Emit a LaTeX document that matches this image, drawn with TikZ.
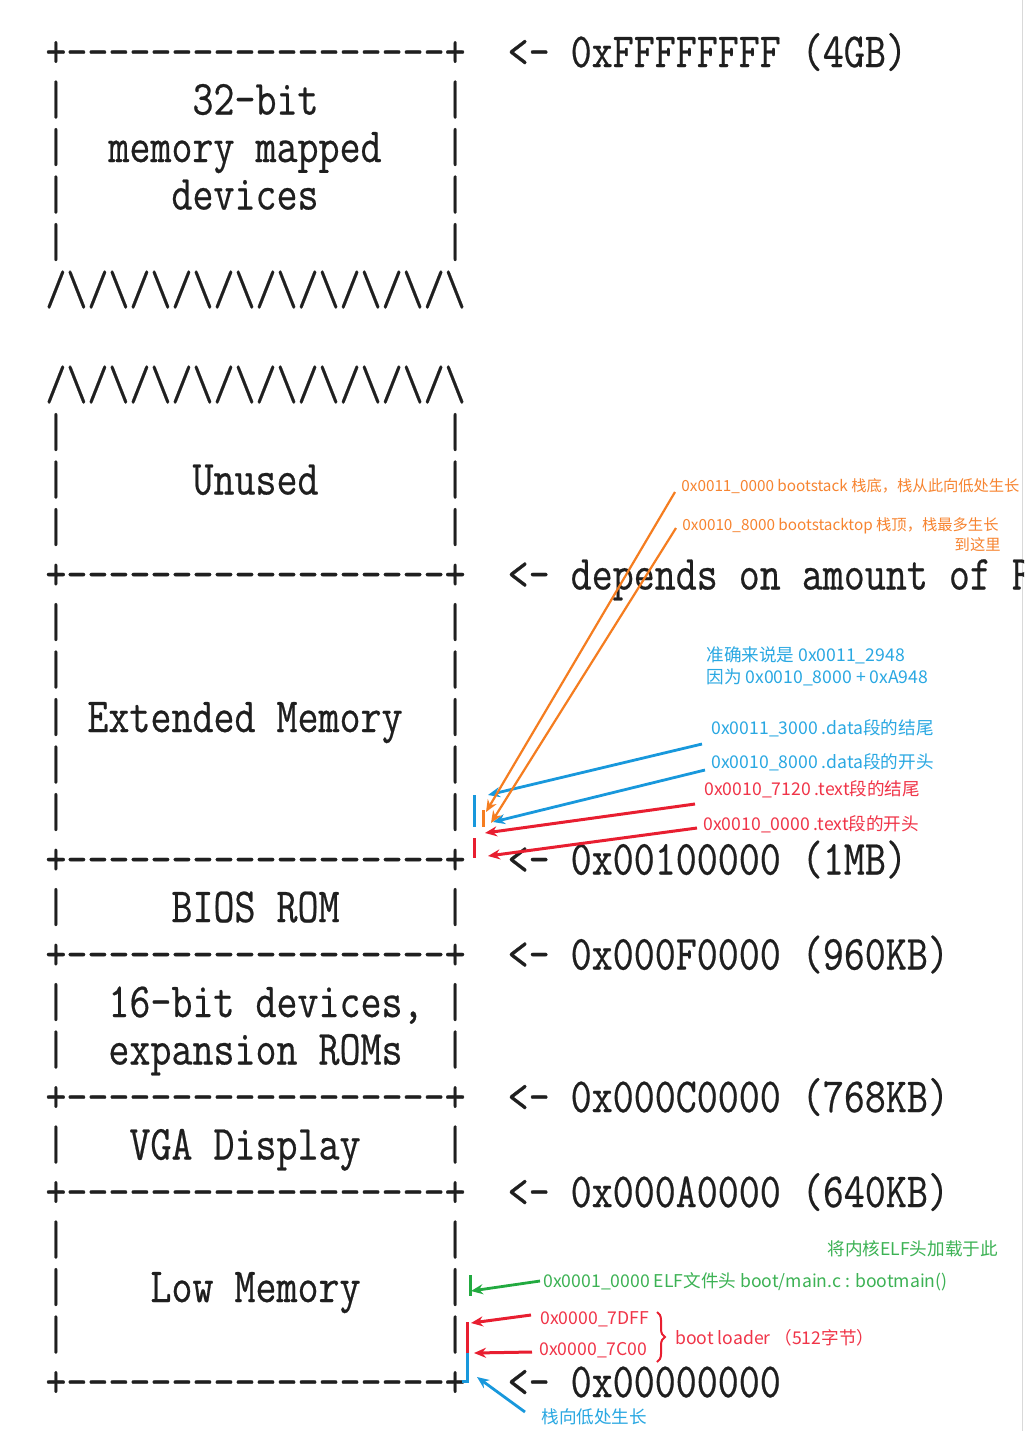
\documentclass[tikz,border=0pt]{standalone}
\usepackage{fontspec}
\setmonofont{Latin Modern Mono}
\newfontfamily\asciifont{Latin Modern Mono}[FakeBold=0.5,WordSpace={1,0,0},PunctuationSpace=WordSpace]
\newfontfamily\cjk{Noto Sans CJK SC}
\usetikzlibrary{arrows.meta,decorations.pathreplacing}
\definecolor{otext}{RGB}{247,132,48}
\definecolor{oline}{RGB}{245,125,32}
\definecolor{btext}{RGB}{42,168,226}
\definecolor{bline}{RGB}{24,152,220}
\definecolor{rtext}{RGB}{240,52,72}
\definecolor{rline}{RGB}{232,30,48}
\definecolor{gtext}{RGB}{60,178,84}
\definecolor{gline}{RGB}{34,170,64}
\newcommand\vsc[1]{\scalebox{1}[1.2]{#1}}
\def\bd{+-{}-{}-{}-{}-{}-{}-{}-{}-{}-{}-{}-{}-{}-{}-{}-{}-{}-+}
\def\emp{|~~~~~~~~~~~~~~~~~~|}
\def\zz{/\textbackslash/\textbackslash/\textbackslash/\textbackslash/\textbackslash/\textbackslash/\textbackslash/\textbackslash/\textbackslash/\textbackslash}
\begin{document}
\begin{tikzpicture}[x=0.5pt,y=-0.5pt,
  asc/.style={anchor=base west,inner sep=0pt,font=\asciifont\fontsize{20.4pt}{22pt}\selectfont,text=black!88},
  ann/.style={anchor=west,inner sep=0pt,font=\cjk\fontsize{8.8pt}{11pt}\selectfont},
  anno/.style={anchor=west,inner sep=0pt,font=\cjk\fontsize{7.65pt}{10pt}\selectfont,text=otext},
  oarr/.style={oline,line width=1.1pt,-{Stealth[length=6pt,width=5pt]}},
  barr/.style={bline,line width=1.4pt,-{Stealth[length=6pt,width=5pt]}},
  rarr/.style={rline,line width=1.5pt,-{Stealth[length=6pt,width=5pt]}},
  garr/.style={gline,line width=1.4pt,-{Stealth[length=6pt,width=5pt]}},
  tickmk/.style={line width=1.5pt}]
\useasboundingbox (0,0) rectangle (1024,1431);
\clip (0,0) rectangle (1024,1431);
\fill[white] (0,0) rectangle (1024,1431);
\draw[black!15,line width=0.6pt] (1022.5,0) -- (1022.5,1431);
% ASCII memory map
\node[asc] (r0)  at (45,67)     {\vsc{\bd~~<-~0xFFFFFFFF~(4GB)}};
\node[asc] (r1)  at (45,114.5)  {\vsc{|~~~~~~32-bit~~~~~~|}};
\node[asc] (r2)  at (45,162)    {\vsc{|~~memory~mapped~~~|}};
\node[asc] (r3)  at (45,209.5)  {\vsc{|~~~~~devices~~~~~~|}};
\node[asc] (r4)  at (45,257)    {\vsc{\emp}};
\node[asc] (r5)  at (45,304.5)  {\vsc{\zz}};
\node[asc] (r7)  at (45,399.5)  {\vsc{\zz}};
\node[asc] (r8)  at (45,447)    {\vsc{\emp}};
\node[asc] (r9)  at (45,494.5)  {\vsc{|~~~~~~Unused~~~~~~|}};
\node[asc] (r10) at (45,542)    {\vsc{\emp}};
\node[asc] (r11) at (45,589.5)  {\vsc{\bd~~<-~depends~on~amount~of~RAM}};
\node[asc] (r12) at (45,637)    {\vsc{\emp}};
\node[asc] (r13) at (45,684.5)  {\vsc{\emp}};
\node[asc] (r14) at (45,732)    {\vsc{|~Extended~Memory~~|}};
\node[asc] (r15) at (45,779.5)  {\vsc{\emp}};
\node[asc] (r16) at (45,827)    {\vsc{\emp}};
\node[asc] (r17) at (45,874.5)  {\vsc{\bd~~<-~0x00100000~(1MB)}};
\node[asc] (r18) at (45,922)    {\vsc{|~~~~~BIOS~ROM~~~~~|}};
\node[asc] (r19) at (45,969.5)  {\vsc{\bd~~<-~0x000F0000~(960KB)}};
\node[asc] (r20) at (45,1017)   {\vsc{|~~16-bit~devices,~|}};
\node[asc] (r21) at (45,1064.5) {\vsc{|~~expansion~ROMs~~|}};
\node[asc] (r22) at (45,1112)   {\vsc{\bd~~<-~0x000C0000~(768KB)}};
\node[asc] (r23) at (45,1159.5) {\vsc{|~~~VGA~Display~~~~|}};
\node[asc] (r24) at (45,1207)   {\vsc{\bd~~<-~0x000A0000~(640KB)}};
\node[asc] (r25) at (45,1254.5) {\vsc{\emp}};
\node[asc] (r26) at (45,1302)   {\vsc{|~~~~Low~Memory~~~~|}};
\node[asc] (r27) at (45,1349.5) {\vsc{\emp}};
\node[asc] (r28) at (45,1397)   {\vsc{\bd~~<-~0x00000000}};
% annotations (upper)
\node[anno] (o1) at (681,486) {0x0011\_0000 bootstack 栈底，栈从此向低处生长};
\node[anno] (o2) at (682,526) {0x0010\_8000 bootstacktop 栈顶，栈最多生长};
\node[anno,anchor=east] (o2b) at (1001,545) {到这里};
\node[ann,text=btext,align=left] (bn) at (706,666) {准确来说是 0x0011\_2948\\因为 0x0010\_8000 + 0xA948};
\node[ann,text=btext] (b1) at (711,728) {0x0011\_3000 .data段的结尾};
\node[ann,text=btext] (b2) at (711,762) {0x0010\_8000 .data段的开头};
\node[ann,text=rtext] (t1) at (704,789) {0x0010\_7120 .text段的结尾};
\node[ann,text=rtext] (t2) at (703,824) {0x0010\_0000 .text段的开头};
% marks (upper)
\coordinate (mb1) at (474,795); \coordinate (mb2) at (474,827);
\coordinate (mo1) at (483,810); \coordinate (mo2) at (483,827);
\coordinate (mr1) at (474,838); \coordinate (mr2) at (474,858);
\draw[tickmk,bline] (mb1) -- (mb2);
\draw[tickmk,oline] (mo1) -- (mo2);
\draw[tickmk,rline] (mr1) -- (mr2);
% arrows (upper)
\coordinate (o1s) at (675,492); \coordinate (o1t) at (486,812);
\coordinate (o2s) at (676,528); \coordinate (o2t) at (491,823);
\coordinate (b1s) at (702,744); \coordinate (b1t) at (488,795);
\coordinate (b2s) at (705,770); \coordinate (b2t) at (493,822);
\coordinate (t1s) at (695,804); \coordinate (t1t) at (485,833);
\coordinate (t2s) at (697,828); \coordinate (t2t) at (488,856);
\draw[barr] (b1s) -- (b1t);
\draw[barr] (b2s) -- (b2t);
\draw[oarr] (o1s) -- (o1t);
\draw[oarr] (o2s) -- (o2t);
\draw[rarr] (t1s) -- (t1t);
\draw[rarr] (t2s) -- (t2t);
% annotations (lower)
\node[ann,text=gtext] (g0) at (827,1249) {将内核ELF头加载于此};
\node[ann,text=gtext] (g1) at (543,1282) {0x0001\_0000 ELF文件头 boot/main.c : bootmain()};
\node[ann,text=rtext] (k1) at (540,1319) {0x0000\_7DFF};
\node[ann,text=rtext] (k2) at (539,1350) {0x0000\_7C00};
\node[ann,text=rtext] (bl) at (675,1338) {boot loader （512字节）};
\node[ann,text=btext] (st) at (541,1417) {栈向低处生长};
\draw[rline,line width=1pt,decorate,decoration={brace,amplitude=4pt}] (657,1312) -- (657,1362);
% marks (lower)
\coordinate (mg1) at (470,1275); \coordinate (mg2) at (470,1296);
\coordinate (mk1) at (467,1322); \coordinate (mk2) at (467,1353);
\coordinate (ms2) at (467,1381); \coordinate (ms3) at (462,1381);
\draw[tickmk,gline] (mg1) -- (mg2);
\draw[tickmk,rline] (mk1) -- (mk2);
\draw[tickmk,bline] (mk2) -- (ms2) -- (ms3);
% arrows (lower)
\coordinate (g1s) at (540,1281); \coordinate (g1t) at (471,1291);
\coordinate (k1s) at (531,1315); \coordinate (k1t) at (471,1323);
\coordinate (k2s) at (532,1352); \coordinate (k2t) at (474,1353);
\coordinate (sts) at (525,1412); \coordinate (stt) at (477,1377);
\draw[garr] (g1s) -- (g1t);
\draw[rarr] (k1s) -- (k1t);
\draw[rarr] (k2s) -- (k2t);
\draw[barr] (sts) -- (stt);
\end{tikzpicture}
\end{document}
